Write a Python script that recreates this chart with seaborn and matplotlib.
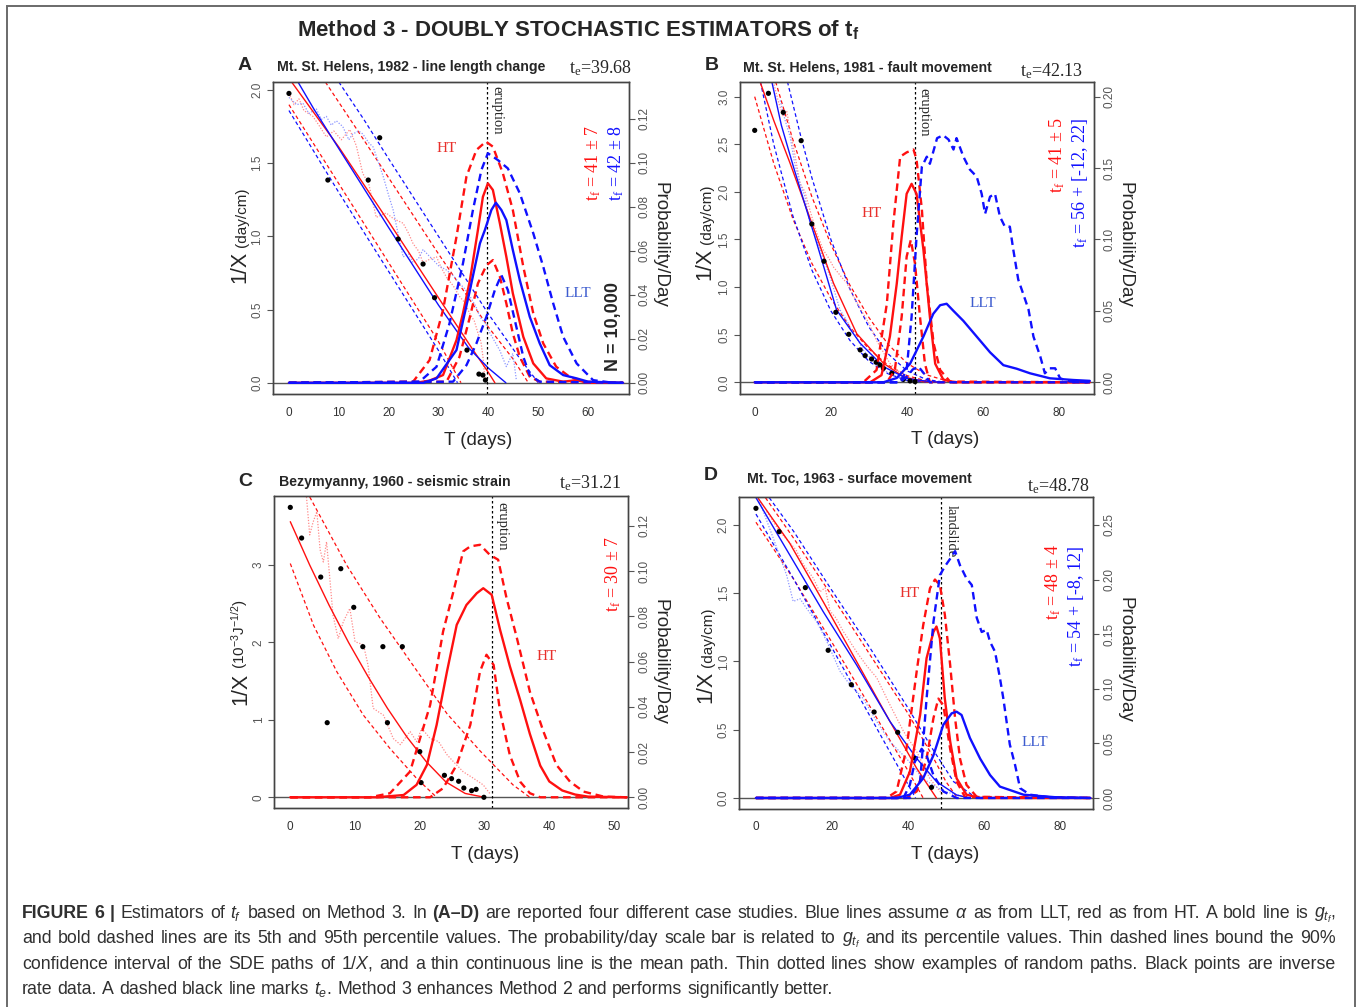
import matplotlib
matplotlib.use("Agg")
import matplotlib.pyplot as plt
import seaborn as sns
from matplotlib.patches import Rectangle

W, H = 1357, 1007
RED, BLUE = "#ff1010", "#1010ff"
RED_DOT, BLUE_DOT = "#ff8a8a", "#8c96ff"

# ---------------- Panel A : Mt. St. Helens 1982, line length change ----------------
a_obs_t = [0, 7.8, 15.9, 18.2, 21.9, 26.9, 29.2, 35.7, 38.1, 38.9, 39.4]
a_obs_y = [1.977, 1.385, 1.385, 1.674, 0.982, 0.811, 0.581, 0.223, 0.059, 0.052, 0.018]
a_ht_mean_t = [0, 10, 20, 30, 37, 40, 41.3]
a_ht_mean_y = [2.08, 1.61, 1.10, 0.58, 0.22, 0.07, 0.0]
a_llt_mean_t = [0, 5, 10, 20, 30, 36, 40, 43.5]
a_llt_mean_y = [2.16, 1.87, 1.60, 1.06, 0.53, 0.24, 0.10, 0.0]
a_ht_lo_t = [0, 10, 20, 30, 34.5]
a_ht_lo_y = [1.90, 1.36, 0.82, 0.28, 0.0]
a_llt_lo_t = [0, 10, 20, 30, 33.8]
a_llt_lo_y = [1.86, 1.30, 0.76, 0.22, 0.0]
a_ht_hi_t = [7.3, 15, 20, 30, 40, 45, 48]
a_ht_hi_y = [2.055, 1.66, 1.40, 0.88, 0.38, 0.16, 0.0]
a_llt_hi_t = [10, 15, 20, 30, 40, 46, 50]
a_llt_hi_y = [2.055, 1.80, 1.53, 1.00, 0.47, 0.18, 0.0]
a_ht_path_t = [0, 1, 2, 3, 4.8, 6, 7.5, 9, 10.5, 12.2, 13.5, 14.8, 16, 17.5, 19.5, 21, 22.9, 24, 24.9,
               26, 26.9, 28, 29.6, 30.5, 31.6, 33, 34.2, 35.2, 36.3, 37.2, 37.9, 38.5, 38.9, 39.3]
a_ht_path_y = [1.98, 1.90, 1.94, 1.86, 1.82, 1.76, 1.68, 1.72, 1.66, 1.73, 1.62, 1.43, 1.36, 1.13, 1.16,
               1.12, 1.09, 1.02, 0.95, 0.90, 0.82, 0.84, 0.86, 0.79, 0.72, 0.66, 0.59, 0.55, 0.47, 0.42,
               0.34, 0.28, 0.18, 0.02]
a_llt_path_t = [0, 1.5, 2.8, 4, 5.5, 6.5, 7.5, 8.5, 9.5, 10.8, 12, 12.8, 14, 14.8, 16, 16.9, 18, 18.9,
                20, 20.9, 22, 22.9, 24, 24.9, 26, 26.9, 28, 28.9, 30, 31.6, 33, 34.2, 35.3, 36.3, 37.5,
                38.3, 39.5, 40.3, 41.3, 42.3, 43, 43.6, 44.3, 44.9, 45.6]
a_llt_path_y = [1.95, 1.90, 1.91, 1.84, 1.87, 1.80, 1.82, 1.76, 1.79, 1.75, 1.66, 1.70, 1.72, 1.70, 1.64,
                1.61, 1.50, 1.41, 1.28, 1.18, 1.00, 0.86, 0.88, 0.82, 0.85, 0.91, 0.87, 0.84, 0.80, 0.77,
                0.73, 0.68, 0.64, 0.59, 0.52, 0.45, 0.40, 0.34, 0.28, 0.22, 0.16, 0.11, 0.16, 0.20, 0.02]
# probability density of tf (right axis)
a_ht_g_t = [0, 25.5, 28.2, 30.9, 33.6, 34.9, 36.3, 37.9, 38.9, 39.9, 40.9, 42.3, 43.6, 44.9, 47.0, 49.0,
            51.6, 55.0, 57.7, 60.0, 67]
a_ht_g_p = [0, 0, 0.001, 0.0035, 0.0194, 0.0316, 0.0467, 0.0695, 0.0846, 0.0907, 0.0877, 0.0725, 0.0573,
            0.0407, 0.0209, 0.0088, 0.002, 0.0005, 0.0012, 0, 0]
a_llt_g_t = [0, 27, 29.6, 33.6, 36.3, 38.3, 39.3, 40.6, 41.5, 42.6, 43.6, 44.9, 46.3, 48.3, 50.3, 52.3, 55.0,
             57.7, 60.0, 67]
a_llt_g_p = [0, 0, 0.002, 0.0149, 0.0422, 0.0634, 0.0695, 0.0786, 0.0819, 0.0786, 0.074, 0.0604, 0.0467,
             0.030, 0.0179, 0.008, 0.0035, 0.002, 0.0005, 0]
a_ht_p95_t = [0, 24.9, 28.2, 30.9, 33.6, 35.6, 37.6, 39.5, 40.9, 42.9, 44.9, 47.0, 49.0, 51.0, 53.6, 56.3,
              59.0, 67]
a_ht_p95_p = [0, 0.0005, 0.0103, 0.0331, 0.0664, 0.0938, 0.1059, 0.1097, 0.1074, 0.0953, 0.0786, 0.0528,
              0.0316, 0.0179, 0.0073, 0.0027, 0.0005, 0]
a_llt_p95_t = [0, 26.2, 29.6, 32.2, 34.9, 36.9, 38.6, 39.9, 41.9, 43.9, 46.3, 49.0, 51.0, 53.0, 55.0, 57.7,
               61.0, 65.0, 67]
a_llt_p95_p = [0, 0.0005, 0.0073, 0.027, 0.0543, 0.0786, 0.0968, 0.1044, 0.1013, 0.0975, 0.0862, 0.068,
               0.0528, 0.0361, 0.0209, 0.0088, 0.0012, 0, 0]
a_ht_p05_t = [0, 31.6, 34.2, 36.3, 37.9, 39.6, 40.9, 42.3, 43.6, 44.9, 46.3, 48.3, 50.3, 67]
a_ht_p05_p = [0, 0.0005, 0.0118, 0.030, 0.0452, 0.0534, 0.0558, 0.0483, 0.0361, 0.0225, 0.0118, 0.0027,
              0.0005, 0]
a_llt_p05_t = [0, 32.9, 35.6, 37.6, 39.6, 41.3, 42.6, 43.9, 45.6, 47.0, 48.3, 50.3, 67]
a_llt_p05_p = [0, 0.0005, 0.008, 0.0179, 0.030, 0.0422, 0.049, 0.0422, 0.0255, 0.0118, 0.0035, 0.0005, 0]

# ---------------- Panel B : Mt. St. Helens 1981, fault movement ----------------
b_obs_t = [0, 3.6, 7.5, 12.2, 15.0, 18.2, 21.3, 24.7, 27.7, 29.0, 30.7, 31.9, 32.9, 33.8, 36.0, 39.0, 40.8, 42.1]
b_obs_y = [2.646, 3.035, 2.835, 2.538, 1.663, 1.271, 0.735, 0.504, 0.34, 0.28, 0.245, 0.21, 0.182, 0.147,
           0.095, 0.03, 0.014, 0.007]
b_ht_mean_t = [1.4, 5, 9.3, 15, 20.7, 26.8, 33.8, 39, 44.3, 50]
b_ht_mean_y = [3.157, 2.75, 2.3, 1.67, 1.04, 0.51, 0.2, 0.06, 0.007, 0]
b_llt_mean_t = [4.5, 7, 10.2, 16.3, 21.5, 27.7, 33.8, 39.9, 46, 50]
b_llt_mean_y = [3.157, 2.7, 2.26, 1.46, 0.76, 0.41, 0.165, 0.04, 0.007, 0]
b_ht_lo_t = [0, 5, 10, 15, 20, 25, 30, 35, 40, 45, 50]
b_ht_lo_y = [3.0, 2.3, 1.72, 1.25, 0.88, 0.58, 0.35, 0.18, 0.07, 0.015, 0]
b_llt_lo_t = [1.5, 5, 10, 15, 20, 25, 30, 35, 40, 45]
b_llt_lo_y = [3.157, 2.5, 1.75, 1.18, 0.75, 0.44, 0.22, 0.09, 0.02, 0]
b_ht_hi_t = [5.5, 10, 15, 20, 25, 30, 35, 40, 45, 50, 55]
b_ht_hi_y = [3.157, 2.55, 1.95, 1.45, 1.02, 0.68, 0.40, 0.20, 0.08, 0.02, 0]
b_llt_hi_t = [8.6, 12, 15, 20, 25, 30, 35, 40, 45, 50]
b_llt_hi_y = [3.157, 2.6, 2.15, 1.5, 0.98, 0.58, 0.30, 0.12, 0.03, 0]
b_ht_path_t = [4.9, 6.2, 7.5, 8.4, 9.3, 10.5, 11.9, 13.2, 14.5, 16, 18, 19.5, 20.7, 22.5, 24.2, 26, 28.5,
               30, 32, 34, 35.5, 37, 39, 41]
b_ht_path_y = [3.157, 2.95, 2.79, 2.85, 2.65, 2.4, 2.09, 2.0, 1.81, 1.6, 1.39, 1.3, 1.21, 1.12, 1.04, 0.9,
               0.72, 0.62, 0.44, 0.3, 0.2, 0.14, 0.08, 0.02]
b_llt_path_t = [6.7, 8, 9.3, 10.5, 11.9, 13.2, 14.5, 15.8, 17.2, 18.5, 19.8, 21, 22.4, 24, 25, 27, 28.5,
                30.5, 32.9, 35, 37.3, 40]
b_llt_path_y = [2.96, 2.75, 2.58, 2.3, 2.09, 1.95, 1.67, 1.55, 1.39, 1.25, 1.11, 0.95, 0.76, 0.66, 0.58,
                0.45, 0.34, 0.25, 0.16, 0.1, 0.06, 0.01]
b_ht_g_t = [0, 30.3, 33.3, 35.5, 37.3, 38.6, 39.9, 41.2, 42.5, 44.3, 46, 47.4, 49.5, 52.2, 88]
b_ht_g_p = [0, 0, 0.005, 0.032, 0.069, 0.102, 0.132, 0.139, 0.132, 0.093, 0.046, 0.013, 0.002, 0, 0]
b_ht_p95_t = [0, 28.5, 32, 34.7, 36.4, 38.2, 39.9, 41.7, 42.5, 43.9, 45.2, 47, 48.7, 51.3, 88]
b_ht_p95_p = [0, 0, 0.0086, 0.055, 0.111, 0.158, 0.161, 0.163, 0.156, 0.121, 0.069, 0.027, 0.0086, 0.0005, 0]
b_ht_p05_t = [0, 34.7, 36.8, 38.6, 39.9, 41, 42.1, 43.4, 44.7, 46, 88]
b_ht_p05_p = [0, 0, 0.0086, 0.046, 0.088, 0.0997, 0.083, 0.046, 0.013, 0, 0]
b_llt_g_t = [0, 33.8, 37.3, 40.8, 44.3, 46.9, 48.7, 50.4, 52.2, 54.8, 58.3, 61.8, 65.3, 68.8, 72.3, 77.5,
             83.7, 88]
b_llt_g_p = [0, 0, 0.003, 0.013, 0.032, 0.048, 0.054, 0.055, 0.050, 0.043, 0.032, 0.021, 0.012, 0.0095,
             0.0063, 0.0028, 0.0016, 0.001]
b_llt_p95_t = [0, 38.2, 39.9, 41.2, 42.5, 43.9, 45.2, 46, 47.9, 49.5, 50.9, 52.2, 53, 54.8, 56.5, 58.3,
               59.6, 60.5, 61.8, 63.1, 64.4, 65.7, 67, 67.9, 69.2, 70.5, 71.9, 73.2, 75, 76.2, 77.5, 78.9,
               80.2, 82.8, 88]
b_llt_p95_p = [0, 0, 0.0086, 0.046, 0.102, 0.151, 0.158, 0.153, 0.171, 0.173, 0.17, 0.163, 0.171, 0.158,
               0.149, 0.144, 0.132, 0.118, 0.13, 0.132, 0.116, 0.109, 0.109, 0.093, 0.072, 0.062, 0.051,
               0.032, 0.018, 0.0063, 0.0098, 0.0098, 0.0028, 0.0005, 0]
b_llt_p05_t = [0, 38, 40, 41.5, 43, 44.5, 46, 88]
b_llt_p05_p = [0, 0, 0.004, 0.009, 0.011, 0.006, 0, 0]

# ---------------- Panel C : Bezymyanny 1960, seismic strain ----------------
c_obs_t = [0, 1.75, 4.7, 5.7, 7.8, 9.8, 11.2, 14.3, 15.0, 17.3, 20.0, 20.2, 23.8, 24.9, 26.0, 26.8, 28.0,
           28.7, 29.9]
c_obs_y = [3.745, 3.349, 2.845, 0.964, 2.953, 2.454, 1.946, 1.946, 0.964, 1.946, 0.59, 0.19, 0.284, 0.241,
           0.207, 0.12, 0.086, 0.103, 0.0]
c_ht_mean_t = [0, 3, 6, 9, 12, 15, 18, 21, 24, 27, 30]
c_ht_mean_y = [3.56, 3.0, 2.48, 2.0, 1.56, 1.15, 0.78, 0.46, 0.2, 0.05, 0]
c_ht_hi_t = [3, 8.7, 13.9, 19, 24.2, 29.3, 34.4, 37]
c_ht_hi_y = [3.88, 3.0, 2.31, 1.70, 1.08, 0.60, 0.16, 0]
c_ht_lo_t = [0, 3.6, 7.2, 11.3, 15.4, 19.5, 22.6]
c_ht_lo_y = [3.02, 2.22, 1.62, 1.06, 0.63, 0.245, 0]
c_ht_path_t = [2.5, 3.0, 3.5, 4.1, 4.6, 5.1, 5.6, 6.1, 6.6, 7.4, 8.2, 9.2, 10.0, 11.3, 12.0, 12.8, 14.4,
               15.9, 17.0, 18.5, 19.5, 20.3, 21.6, 22.9, 24.2, 25.2, 26.7, 28.3, 29.8, 30.8]
c_ht_path_y = [3.88, 3.39, 3.55, 3.69, 3.2, 3.04, 3.3, 2.83, 2.35, 2.05, 2.27, 2.44, 2.01, 1.97, 1.71, 1.15,
               1.06, 0.76, 0.68, 0.85, 0.72, 0.89, 0.76, 0.72, 0.55, 0.46, 0.33, 0.245, 0.16, 0.05]
c_ht_g_t = [0, 13.3, 17.5, 19.5, 21.1, 22.6, 24.2, 25.7, 27.2, 28.8, 29.8, 31.1, 32.4, 33.9, 35.5, 37.0,
            38.6, 40.0, 42.0, 44.0, 46.0, 52]
c_ht_g_p = [0, 0, 0.001, 0.0055, 0.0143, 0.032, 0.0556, 0.0762, 0.085, 0.0902, 0.0924, 0.0895, 0.074,
            0.058, 0.043, 0.028, 0.014, 0.007, 0.003, 0.0012, 0.0003, 0]
c_ht_p95_t = [0, 12.3, 15.4, 18.5, 21.6, 23.6, 25.2, 26.7, 27.8, 29.3, 30.8, 32.1, 33.4, 35.0, 37.0, 39.1,
              41.1, 43.2, 45.3, 48.4, 52]
c_ht_p95_p = [0, 0, 0.0018, 0.0114, 0.0408, 0.0733, 0.091, 0.1087, 0.1109, 0.1116, 0.1072, 0.105, 0.088,
              0.0703, 0.0467, 0.029, 0.0143, 0.0069, 0.0025, 0.0003, 0]
c_ht_p05_t = [0, 21.6, 23.6, 25.7, 27.8, 29.3, 30.3, 31.4, 32.4, 33.9, 35.5, 37.0, 38.6, 52]
c_ht_p05_p = [0, 0, 0.004, 0.0143, 0.032, 0.0556, 0.063, 0.0585, 0.0379, 0.0187, 0.0069, 0.0018, 0, 0]

# ---------------- Panel D : Mt. Toc 1963, surface movement ----------------
d_obs_t = [0, 6.1, 13.0, 19.0, 25.1, 31.1, 37.3, 41.9, 46.2]
d_obs_y = [2.122, 1.951, 1.541, 1.082, 0.83, 0.63, 0.481, 0.29, 0.078]
d_ht_mean_t = [0.6, 8.9, 17.7, 26.5, 35.3, 42.3, 47.5]
d_ht_mean_y = [2.195, 1.866, 1.438, 0.999, 0.559, 0.217, 0]
d_llt_mean_t = [0, 8.9, 17.7, 26.5, 35.3, 42.3, 47.5, 52.8, 56.3]
d_llt_mean_y = [2.2, 1.78, 1.365, 0.974, 0.559, 0.29, 0.12, 0.022, 0]
d_ht_hi_t = [2.5, 10, 20, 30, 40, 46, 50, 53]
d_ht_hi_y = [2.2, 1.9, 1.48, 1.05, 0.62, 0.33, 0.12, 0]
d_ht_lo_t = [0, 10, 20, 30, 40, 44]
d_ht_lo_y = [2.02, 1.6, 1.14, 0.67, 0.2, 0]
d_llt_hi_t = [3.5, 10, 20, 30, 40, 46, 52, 58]
d_llt_hi_y = [2.2, 1.95, 1.52, 1.1, 0.66, 0.38, 0.12, 0]
d_llt_lo_t = [0, 10, 20, 30, 38, 42]
d_llt_lo_y = [2.08, 1.6, 1.1, 0.6, 0.2, 0]
d_ht_path_t = [2.8, 6.3, 8.9, 10.5, 12.5, 15.1, 16.8, 18.2, 19.5, 21, 23, 26.5, 29.1, 31.8, 35.3, 38.8,
               42.3, 45.8, 49.3]
d_ht_path_y = [2.1, 1.95, 1.87, 1.82, 1.71, 1.61, 1.51, 1.54, 1.37, 1.32, 1.22, 1.07, 0.97, 0.88, 0.68,
               0.49, 0.34, 0.14, 0.02]
d_llt_path_t = [1, 4.6, 8.1, 9.8, 11.6, 13.3, 16, 18.6, 22.1, 24.7, 28.2, 31.8, 35.3, 39.6, 44, 49.3, 54.6]
d_llt_path_y = [2.17, 1.9, 1.63, 1.44, 1.46, 1.39, 1.29, 1.15, 0.93, 0.83, 0.73, 0.56, 0.41, 0.29, 0.14,
                0.05, 0.01]
d_ht_g_t = [0, 35.3, 37.9, 40.5, 43.2, 44.9, 46.7, 47.5, 48.4, 49.7, 51.1, 52.8, 55.4, 59, 88]
d_ht_g_p = [0, 0, 0.003, 0.024, 0.076, 0.128, 0.152, 0.157, 0.146, 0.091, 0.052, 0.018, 0.003, 0, 0]
d_ht_p95_t = [0, 34.4, 37, 39.6, 42.3, 44, 45.8, 47.1, 48.4, 49.7, 51.1, 52.4, 53.7, 55.4, 58.1, 88]
d_ht_p95_p = [0, 0, 0.006, 0.045, 0.116, 0.158, 0.192, 0.2, 0.195, 0.168, 0.122, 0.073, 0.036, 0.012,
              0.001, 0]
d_ht_p05_t = [0, 39.6, 42.3, 44.9, 46.7, 48, 49.3, 51.1, 52.8, 55, 88]
d_ht_p05_p = [0, 0, 0.006, 0.036, 0.073, 0.091, 0.085, 0.045, 0.015, 0.001, 0]
d_llt_g_t = [0, 37, 40.5, 44, 46.7, 49.3, 51.5, 52.8, 54.1, 56.3, 59, 61.6, 64.2, 66.8, 70.4, 73.9, 79.1, 88]
d_llt_g_p = [0, 0, 0.003, 0.018, 0.039, 0.067, 0.0775, 0.079, 0.076, 0.055, 0.036, 0.021, 0.0104, 0.0073,
             0.003, 0.002, 0.0006, 0]
d_llt_p95_t = [0, 40.5, 43.2, 44.9, 46.7, 48.4, 49.7, 51.1, 52.4, 53.7, 55.4, 56.8, 58.1, 59.4, 60.7, 61.6,
               62.9, 64.2, 65.1, 66.8, 68.2, 69.5, 72.1, 77.4, 88]
d_llt_p95_p = [0, 0, 0.015, 0.091, 0.161, 0.204, 0.212, 0.219, 0.226, 0.213, 0.201, 0.195, 0.165, 0.152,
               0.154, 0.143, 0.134, 0.11, 0.091, 0.049, 0.03, 0.009, 0.003, 0.0006, 0]
d_llt_p05_t = [0, 38.8, 40.5, 41.8, 43.6, 44.9, 46.7, 49.3, 52.8, 88]
d_llt_p05_p = [0, 0, 0.012, 0.033, 0.045, 0.039, 0.021, 0.006, 0, 0]

caption_lines = [
    r"!FIGURE !6 !| Estimators of $\mathit{t_f}$ based on Method 3. In !(A–D) are reported four different case studies. "
    r"Blue lines assume $\mathit{\alpha}$ as from LLT, red as from HT. A bold line is $\mathit{g_{t_f}}$,",
    r"and bold dashed lines are its 5th and 95th percentile values. The probability/day scale bar is related to "
    r"$\mathit{g_{t_f}}$ and its percentile values. Thin dashed lines bound the 90%",
    r"confidence interval of the SDE paths of 1/$\mathit{X}$, and a thin continuous line is the mean path. "
    r"Thin dotted lines show examples of random paths. Black points are inverse",
    r"rate data. A dashed black line marks $\mathit{t_e}$. Method 3 enhances Method 2 and performs significantly better.",
]

sns.set_style("white")
plt.rcParams["font.family"] = ["Liberation Sans", "DejaVu Sans"]
plt.rcParams["mathtext.fontset"] = "custom"
plt.rcParams["mathtext.rm"] = "Liberation Sans"
plt.rcParams["mathtext.it"] = "Liberation Sans:italic"
plt.rcParams["mathtext.bf"] = "Liberation Sans:bold"
plt.rcParams["mathtext.default"] = "regular"
SERIF = ["Liberation Serif", "DejaVu Serif"]


def line(ax, t, y, color, ls="-", lw=1.0):
    sns.lineplot(x=t, y=y, ax=ax, color=color, linestyle=ls, linewidth=lw, sort=False,
                 estimator=None, errorbar=None, legend=False)


BOLD_DASH = (0, (3.2, 2.0))
THIN_DASH = (0, (3.0, 2.2))
DOT = (0, (1.0, 1.3))


def draw_panel(pos, p):
    ax = fig.add_axes(pos)
    ax2 = ax.twinx()
    ax.axhline(0, color="#555555", lw=1.0)
    for key, col in (("ht", RED), ("llt", BLUE)):
        if key + "_hi" in p:
            line(ax, *p[key + "_hi"], col, THIN_DASH, 0.9)
            line(ax, *p[key + "_lo"], col, THIN_DASH, 0.9)
    for key, col in (("ht", RED_DOT), ("llt", BLUE_DOT)):
        if key + "_path" in p:
            line(ax, *p[key + "_path"], col, DOT, 0.9)
    for key, col in (("ht", RED), ("llt", BLUE)):
        if key + "_mean" in p:
            line(ax, *p[key + "_mean"], col, "-", 1.0)
    sns.scatterplot(x=p["obs"][0], y=p["obs"][1], ax=ax, color="black", s=14, edgecolor="none", zorder=5)
    ax.axvline(p["te"], color="black", ls=(0, (2, 2)), lw=0.9)
    for key, col in (("ht", RED), ("llt", BLUE)):
        if key + "_g" in p:
            line(ax2, *p[key + "_p95"], col, BOLD_DASH, 1.7)
            line(ax2, *p[key + "_p05"], col, BOLD_DASH, 1.7)
            line(ax2, *p[key + "_g"], col, "-", 1.7)

    ax.set_xlim(p["xlim"])
    ax.set_ylim(p["ylim"])
    ax2.set_ylim(p["plim"])
    ax.set_xticks(p["xt"])
    ax.set_xticklabels([str(v) for v in p["xt"]])
    ax.set_yticks(p["yt"])
    ax.set_yticklabels([p["yfmt"].format(v) for v in p["yt"]], rotation=90, va="center")
    ax2.set_yticks(p["pt"])
    ax2.set_yticklabels([p["pfmt"].format(v) for v in p["pt"]], rotation=90, va="center")
    ax.set_xlabel("")
    ax.set_ylabel("")
    for a in (ax, ax2):
        a.tick_params(length=4, width=0.8, color="#555555", labelsize=8.5, labelcolor="#555555", pad=3)
        for s in a.spines.values():
            s.set_color("#444444")
            s.set_linewidth(1.0)
    ax.tick_params(axis="x", pad=5, labelcolor="#333333")

    tr = ax.transAxes
    ax.text(*p["letter_xy"], p["letter"], transform=tr, fontsize=14, fontweight="bold", ha="center", va="center")
    ax.text(*p["title_xy"], p["title"], transform=tr, fontsize=10.2, fontweight="bold", ha="left", va="center")
    ax.text(*p["te_xy"], "t$_e$=" + p["te_label"], transform=tr, family=SERIF, fontsize=13,
            ha="right", va="center")
    # y label: large "1/X" followed by the smaller unit
    main = ax.text(*p["ylab_xy"], "1/X", transform=tr, fontsize=15.5, rotation=90, ha="center", va="bottom")
    ax.annotate(p["yunit"], xy=(1.0, 1.0), xycoords=main, xytext=(-1, 3), textcoords="offset points",
                fontsize=11, rotation=90, ha="right", va="bottom")
    ax.text(*p["plab_xy"], "Probability/Day", transform=tr, fontsize=13.5, rotation=270, ha="center", va="center")
    ax.text(*p["xlab_xy"], "T (days)", transform=tr, fontsize=13.5, ha="center", va="center")
    ax.text(*p["event_xy"], p["event"], family=SERIF, fontsize=10.5, rotation=270, ha="center", va="top")
    for txt, xy, col, fs in p["notes"]:
        ax.text(*xy, txt, family=SERIF, fontsize=fs, color=col, ha="center", va="center")
    for txt, xy, col in p["tf"]:
        ax.text(*xy, txt, family=SERIF, fontsize=13, color=col, rotation=90, ha="center", va="center")
    for txt, xy in p.get("count", []):
        ax.text(*xy, txt, fontsize=13, fontweight="bold", rotation=90, ha="center", va="center")
    return ax


fig = plt.figure(figsize=(W / 100, H / 100), dpi=100)
fig.add_artist(Rectangle((7 / W, -0.01), (1355 - 7) / W, 1 - 6 / H + 0.01, transform=fig.transFigure,
                         fill=False, ec="#6a6a6a", lw=1.4))
fig.text(0.426, 0.970, "Method 3 - DOUBLY STOCHASTIC ESTIMATORS of t$_f$", fontsize=16,
         fontweight="bold", ha="center", va="center")

panel_a = dict(
    obs=(a_obs_t, a_obs_y), te=39.68, te_label="39.68",
    ht_mean=(a_ht_mean_t, a_ht_mean_y), llt_mean=(a_llt_mean_t, a_llt_mean_y),
    ht_hi=(a_ht_hi_t, a_ht_hi_y), ht_lo=(a_ht_lo_t, a_ht_lo_y),
    llt_hi=(a_llt_hi_t, a_llt_hi_y), llt_lo=(a_llt_lo_t, a_llt_lo_y),
    ht_path=(a_ht_path_t, a_ht_path_y), llt_path=(a_llt_path_t, a_llt_path_y),
    ht_g=(a_ht_g_t, a_ht_g_p), ht_p95=(a_ht_p95_t, a_ht_p95_p), ht_p05=(a_ht_p05_t, a_ht_p05_p),
    llt_g=(a_llt_g_t, a_llt_g_p), llt_p95=(a_llt_p95_t, a_llt_p95_p), llt_p05=(a_llt_p05_t, a_llt_p05_p),
    xlim=(-3.2, 68.2), ylim=(-0.077, 2.055), plim=(-0.0051, 0.1368),
    xt=[0, 10, 20, 30, 40, 50, 60], yt=[0, 0.5, 1.0, 1.5, 2.0], yfmt="{:.1f}",
    pt=[0, 0.02, 0.04, 0.06, 0.08, 0.10, 0.12], pfmt="{:.2f}",
    letter="A", letter_xy=(-0.079, 1.054), title="Mt. St. Helens, 1982 - line length change",
    title_xy=(0.011, 1.048), te_xy=(1.01, 1.045),
    yunit="(day/cm)", ylab_xy=(-0.093, 0.356), plab_xy=(1.087, 0.478), xlab_xy=(0.576, -0.15),
    event="eruption", event_xy=(41.8, 2.03),
    notes=[("HT", (31.6, 1.6), "#e8302c", 11), ("LLT", (58, 0.61), "#3d5ccf", 11)],
    tf=[("t$_f$ = 41 ± 7", (61.0, 1.50), RED), ("t$_f$ = 42 ± 8", (65.7, 1.50), BLUE)],
    count=[("N = 10,000", (65.0, 0.383))],
)
panel_b = dict(
    obs=(b_obs_t, b_obs_y), te=42.13, te_label="42.13",
    ht_mean=(b_ht_mean_t, b_ht_mean_y), llt_mean=(b_llt_mean_t, b_llt_mean_y),
    ht_hi=(b_ht_hi_t, b_ht_hi_y), ht_lo=(b_ht_lo_t, b_ht_lo_y),
    llt_hi=(b_llt_hi_t, b_llt_hi_y), llt_lo=(b_llt_lo_t, b_llt_lo_y),
    ht_path=(b_ht_path_t, b_ht_path_y), llt_path=(b_llt_path_t, b_llt_path_y),
    ht_g=(b_ht_g_t, b_ht_g_p), ht_p95=(b_ht_p95_t, b_ht_p95_p), ht_p05=(b_ht_p05_t, b_ht_p05_p),
    llt_g=(b_llt_g_t, b_llt_g_p), llt_p95=(b_llt_p95_t, b_llt_p95_p), llt_p05=(b_llt_p05_t, b_llt_p05_p),
    xlim=(-3.86, 89.1), ylim=(-0.123, 3.154), plim=(-0.0082, 0.2103),
    xt=[0, 20, 40, 60, 80], yt=[0, 0.5, 1.0, 1.5, 2.0, 2.5, 3.0], yfmt="{:.1f}",
    pt=[0, 0.05, 0.10, 0.15, 0.20], pfmt="{:.2f}",
    letter="B", letter_xy=(-0.079, 1.054), title="Mt. St. Helens, 1981 - fault movement",
    title_xy=(0.008, 1.048), te_xy=(0.97, 1.035),
    yunit="(day/cm)", ylab_xy=(-0.1, 0.365), plab_xy=(1.088, 0.478), xlab_xy=(0.579, -0.147),
    event="eruption", event_xy=(44.3, 3.09),
    notes=[("HT", (30.7, 1.77), "#e8302c", 11), ("LLT", (60, 0.83), "#3d5ccf", 11)],
    tf=[("t$_f$ = 41 ± 5", (79.3, 2.39), RED), ("t$_f$ = 56 + [-12, 22]", (85.3, 2.09), BLUE)],
)
panel_c = dict(
    obs=(c_obs_t, c_obs_y), te=31.21, te_label="31.21",
    ht_mean=(c_ht_mean_t, c_ht_mean_y), ht_hi=(c_ht_hi_t, c_ht_hi_y), ht_lo=(c_ht_lo_t, c_ht_lo_y),
    ht_path=(c_ht_path_t, c_ht_path_y),
    ht_g=(c_ht_g_t, c_ht_g_p), ht_p95=(c_ht_p95_t, c_ht_p95_p), ht_p05=(c_ht_p05_t, c_ht_p05_p),
    xlim=(-2.47, 52.2), ylim=(-0.142, 3.896), plim=(-0.00487, 0.1333),
    xt=[0, 10, 20, 30, 40, 50], yt=[0, 1, 2, 3], yfmt="{:d}",
    pt=[0, 0.02, 0.04, 0.06, 0.08, 0.10, 0.12], pfmt="{:.2f}",
    letter="C", letter_xy=(-0.083, 1.047), title="Bezymyanny, 1960 - seismic strain",
    title_xy=(0.013, 1.044), te_xy=(0.982, 1.04),
    yunit="(10$^{-3}$J$^{-1/2}$)", ylab_xy=(-0.095, 0.33), plab_xy=(1.09, 0.468), xlab_xy=(0.595, -0.149),
    event="eruption", event_xy=(32.6, 3.81),
    notes=[("HT", (39.6, 1.82), "#e8302c", 11)],
    tf=[("t$_f$ = 30 ± 7", (49.9, 2.88), RED)],
)
panel_d = dict(
    obs=(d_obs_t, d_obs_y), te=48.78, te_label="48.78",
    ht_mean=(d_ht_mean_t, d_ht_mean_y), llt_mean=(d_llt_mean_t, d_llt_mean_y),
    ht_hi=(d_ht_hi_t, d_ht_hi_y), ht_lo=(d_ht_lo_t, d_ht_lo_y),
    llt_hi=(d_llt_hi_t, d_llt_hi_y), llt_lo=(d_llt_lo_t, d_llt_lo_y),
    ht_path=(d_ht_path_t, d_ht_path_y), llt_path=(d_llt_path_t, d_llt_path_y),
    ht_g=(d_ht_g_t, d_ht_g_p), ht_p95=(d_ht_p95_t, d_ht_p95_p), ht_p05=(d_ht_p05_t, d_ht_p05_p),
    llt_g=(d_llt_g_t, d_llt_g_p), llt_p95=(d_llt_p95_t, d_llt_p95_p), llt_p05=(d_llt_p05_t, d_llt_p05_p),
    xlim=(-4.38, 88.77), ylim=(-0.0806, 2.205), plim=(-0.0101, 0.2756),
    xt=[0, 20, 40, 60, 80], yt=[0, 0.5, 1.0, 1.5, 2.0], yfmt="{:.1f}",
    pt=[0, 0.05, 0.10, 0.15, 0.20, 0.25], pfmt="{:.2f}",
    letter="D", letter_xy=(-0.08, 1.07), title="Mt. Toc, 1963 - surface movement",
    title_xy=(0.022, 1.058), te_xy=(0.992, 1.035),
    yunit="(day/cm)", ylab_xy=(-0.095, 0.34), plab_xy=(1.09, 0.478), xlab_xy=(0.582, -0.147),
    event="landslide", event_xy=(51.5, 2.15),
    notes=[("HT", (40.5, 1.5), "#e8302c", 11), ("LLT", (73.4, 0.41), "#3d5ccf", 11)],
    tf=[("t$_f$ = 48 ± 4", (78.2, 1.585), RED), ("t$_f$ = 54 + [-8, 12]", (84.2, 1.40), BLUE)],
)

draw_panel([273 / W, 1 - 394 / H, 356 / W, 312 / H], panel_a)
draw_panel([740 / W, 1 - 394 / H, 354 / W, 312 / H], panel_b)
draw_panel([274.3 / W, 1 - 808.3 / H, 354 / W, 312.6 / H], panel_c)
draw_panel([739.3 / W, 1 - 809 / H, 354 / W, 312 / H], panel_d)

# caption, justified word by word
renderer = fig.canvas.get_renderer()
X0, X1 = 22, 1336
CAP_SIZE = 12.8
for i, text_line in enumerate(caption_lines):
    y = 1 - (918 + 25.3 * i) / H
    words = []
    for tok in text_line.split(" "):
        bold = tok.startswith("!")
        words.append(fig.text(0, y, tok[1:] if bold else tok, fontsize=CAP_SIZE, color="#303030",
                              fontweight="bold" if bold else "normal", ha="left", va="baseline"))
    widths = [w.get_window_extent(renderer=renderer).width for w in words]
    if i < len(caption_lines) - 1:
        gap = (X1 - X0 - sum(widths)) / (len(words) - 1)
    else:
        gap = 0.28 * CAP_SIZE * 100 / 72
    x = X0
    for w, wd in zip(words, widths):
        w.set_x(x / W)
        x += wd + gap

fig.savefig("out.png", dpi=100)
